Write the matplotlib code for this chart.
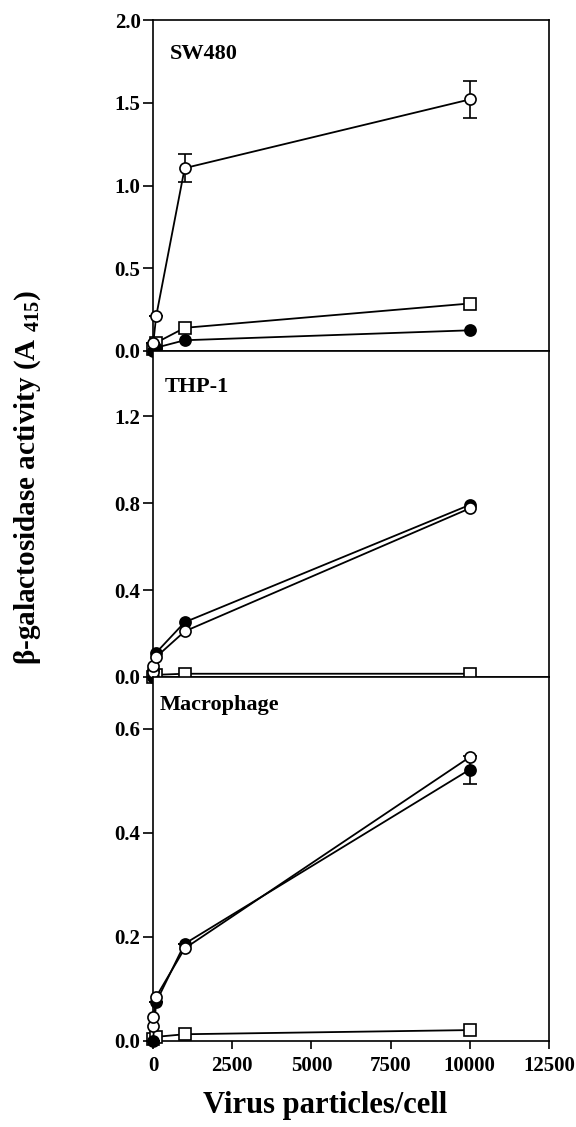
import matplotlib
matplotlib.use("Agg")
import matplotlib.pyplot as plt

plt.rcParams['font.family'] = ['Liberation Serif', 'DejaVu Serif']
plt.rcParams['font.weight'] = 'bold'
plt.rcParams['mathtext.default'] = 'regular'

# ---------------- data ----------------
panel_names = ["SW480", "THP-1", "Macrophage"]

# SW480
sw_open_x = [10, 100, 1000, 10000]
sw_open_y = [0.05, 0.21, 1.105, 1.52]
sw_open_err = [0.0, 0.0, 0.085, 0.11]
sw_fill_x = [0, 100, 1000, 10000]
sw_fill_y = [0.0, 0.02, 0.065, 0.125]
sw_sq_x = [0, 100, 1000, 10000]
sw_sq_y = [0.01, 0.05, 0.14, 0.287]

# THP-1
thp_open_x = [0, 10, 100, 1000, 10000]
thp_open_y = [0.025, 0.05, 0.092, 0.21, 0.776]
thp_fill_x = [0, 10, 100, 1000, 10000]
thp_fill_y = [0.0, 0.03, 0.112, 0.252, 0.792]
thp_sq_x = [0, 100, 1000, 10000]
thp_sq_y = [0.0, 0.01, 0.015, 0.015]

# Macrophage
mac_open_x = [0, 10, 100, 1000, 10000]
mac_open_y = [0.028, 0.047, 0.085, 0.178, 0.546]
mac_fill_x = [0, 100, 1000, 10000]
mac_fill_y = [0.0, 0.075, 0.187, 0.522]
mac_fill_err = [0.0, 0.0, 0.0, 0.027]
mac_sq_x = [0, 100, 1000, 10000]
mac_sq_y = [0.003, 0.008, 0.013, 0.021]

ylims = [2.0, 1.5, 0.7]
yticks = [[0.0, 0.5, 1.0, 1.5, 2.0], [0.0, 0.4, 0.8, 1.2], [0.0, 0.2, 0.4, 0.6]]
xticks = [0, 2500, 5000, 7500, 10000, 12500]

# ---------------- figure ----------------
W, H = 576, 1127
fig = plt.figure(figsize=(W / 100, H / 100), dpi=100)

left = 153 / W
width = (549 - 153) / W
bounds = [(20, 351), (351, 677), (677, 1041)]
axes = []
for (t, b) in bounds:
    ax = fig.add_axes([left, 1 - b / H, width, (b - t) / H])
    axes.append(ax)

lw = 1.3
ms = 8
mew = 1.2

def draw_series(ax, x, y, marker, fill, err=None, z=3):
    mfc = 'black' if fill else 'white'
    if err is not None:
        ax.errorbar(x, y, yerr=err, color='black', lw=lw, marker=marker, ms=ms,
                    mfc=mfc, mec='black', mew=mew, capsize=5, capthick=1.2,
                    elinewidth=1.2, clip_on=False, zorder=z)
    else:
        ax.plot(x, y, color='black', lw=lw, marker=marker, ms=ms, mfc=mfc,
                mec='black', mew=mew, clip_on=False, zorder=z)

series = [
    [(sw_sq_x, sw_sq_y, 's', False, None), (sw_fill_x, sw_fill_y, 'o', True, None),
     (sw_open_x, sw_open_y, 'o', False, sw_open_err)],
    [(thp_sq_x, thp_sq_y, 's', False, None), (thp_fill_x, thp_fill_y, 'o', True, None),
     (thp_open_x, thp_open_y, 'o', False, None)],
    [(mac_sq_x, mac_sq_y, 's', False, None), (mac_fill_x, mac_fill_y, 'o', True, mac_fill_err),
     (mac_open_x, mac_open_y, 'o', False, None)],
]

label_pos = [(170, 54), (165, 387), (160, 705)]

for i, ax in enumerate(axes):
    for k, (x, y, m, f, e) in enumerate(series[i]):
        draw_series(ax, x, y, m, f, e, z=3 + k)
    ax.set_xlim(0, 12500)
    ax.set_ylim(0, ylims[i])
    ax.set_yticks(yticks[i])
    ax.set_yticklabels([f"{v:.1f}" for v in yticks[i]])
    for s in ax.spines.values():
        s.set_linewidth(1.2)
    ax.tick_params(axis='y', direction='out', length=7, width=1.2, pad=2,
                   labelsize=15)
    if i < 2:
        ax.set_xticks([])
    else:
        ax.set_xticks(xticks)
        ax.set_xticklabels([str(v) for v in xticks])
        ax.tick_params(axis='x', direction='out', length=6, width=1.2, pad=5,
                       labelsize=15)
    for lab in ax.get_yticklabels() + ax.get_xticklabels():
        lab.set_fontweight('bold')
    lx, ly = label_pos[i]
    fig.text(lx / W, 1 - ly / H, panel_names[i], fontsize=16, fontweight='bold',
             ha='left', va='center')

fig.text(28 / W, 1 - 477 / H, r"β-galactosidase activity (A $_{415}$)",
         rotation=90, ha='center', va='center', fontsize=21, fontweight='bold')
fig.text(325 / W, 1 - 1106 / H, "Virus particles/cell", ha='center', va='center',
         fontsize=22, fontweight='bold')

fig.savefig("out.png", dpi=100)
